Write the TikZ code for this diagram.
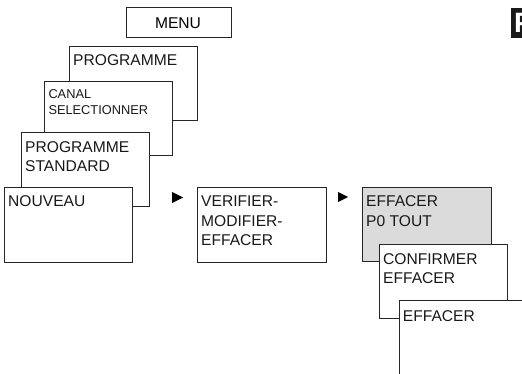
\documentclass[tikz,border=0pt]{standalone}
\usepackage{fontspec}
\setmainfont{Liberation Sans}
\begin{document}
\begin{tikzpicture}[x=1pt,y=-1pt,
  menubox/.style={draw=black!85,line width=0.8pt,fill=white},
  greybox/.style={draw=black!85,line width=0.8pt,fill=black!14},
  lbl/.style={anchor=base west,inner sep=0pt,font=\fontsize{15.6}{19}\selectfont,text=black!90},
  smalllbl/.style={anchor=base west,inner sep=0pt,font=\fontsize{12.8}{15}\selectfont,text=black!90},
  tri/.style={fill=black}]
\useasboundingbox (0,0) rectangle (522,374);
\clip (0,0) rectangle (522,374);
% MENU
\draw[menubox] (126,7) rectangle (231,37);
\node[anchor=base,inner sep=0pt,font=\fontsize{15.6}{19}\selectfont] (menu) at (178,29) {MENU};
% left stack
\draw[menubox] (69,46) rectangle (197,120);
\node[lbl] (prog) at (73,65.7) {PROGRAMME};
\draw[menubox] (44,81) rectangle (172,155);
\node[smalllbl] (canal1) at (48.3,99) {CANAL};
\node[smalllbl] (canal2) at (48.3,114.3) {SELECTIONNER};
\draw[menubox] (21,132) rectangle (149,206);
\node[lbl] (std1) at (25,152.7) {PROGRAMME};
\node[lbl] (std2) at (25,171.7) {STANDARD};
\draw[menubox] (4,187) rectangle (132,262);
\node[lbl] (nouv) at (8,206.7) {NOUVEAU};
% arrow 1
\fill[tri] (172,192) -- (183,197.5) -- (172,203) -- cycle;
% verifier
\draw[menubox] (197,187) rectangle (326,262);
\node[lbl] (ver1) at (201,206.7) {VERIFIER-};
\node[lbl] (ver2) at (201,226.2) {MODIFIER-};
\node[lbl] (ver3) at (201,245.7) {EFFACER};
% arrow 2
\fill[tri] (338,192) -- (348,197) -- (338,202) -- cycle;
% right stack
\draw[greybox] (362,187) rectangle (491,261);
\node[lbl] (eff1) at (366,206.7) {EFFACER};
\node[lbl] (eff2) at (366,226.7) {P0 TOUT};
\draw[menubox] (379,244) rectangle (507,318);
\node[lbl] (conf1) at (383,264.3) {CONFIRMER};
\node[lbl] (conf2) at (383,283.3) {EFFACER};
\draw[menubox] (399,300) rectangle (540,400);
\node[lbl] (eff3) at (402.7,321) {EFFACER};
% black tab top right
\fill[black!90] (511,8) rectangle (540,38);
\node[anchor=base west,inner sep=0pt,font=\fontsize{28}{30}\bfseries\selectfont,text=white] (tab) at (514,33) {P};
\end{tikzpicture}
\end{document}
